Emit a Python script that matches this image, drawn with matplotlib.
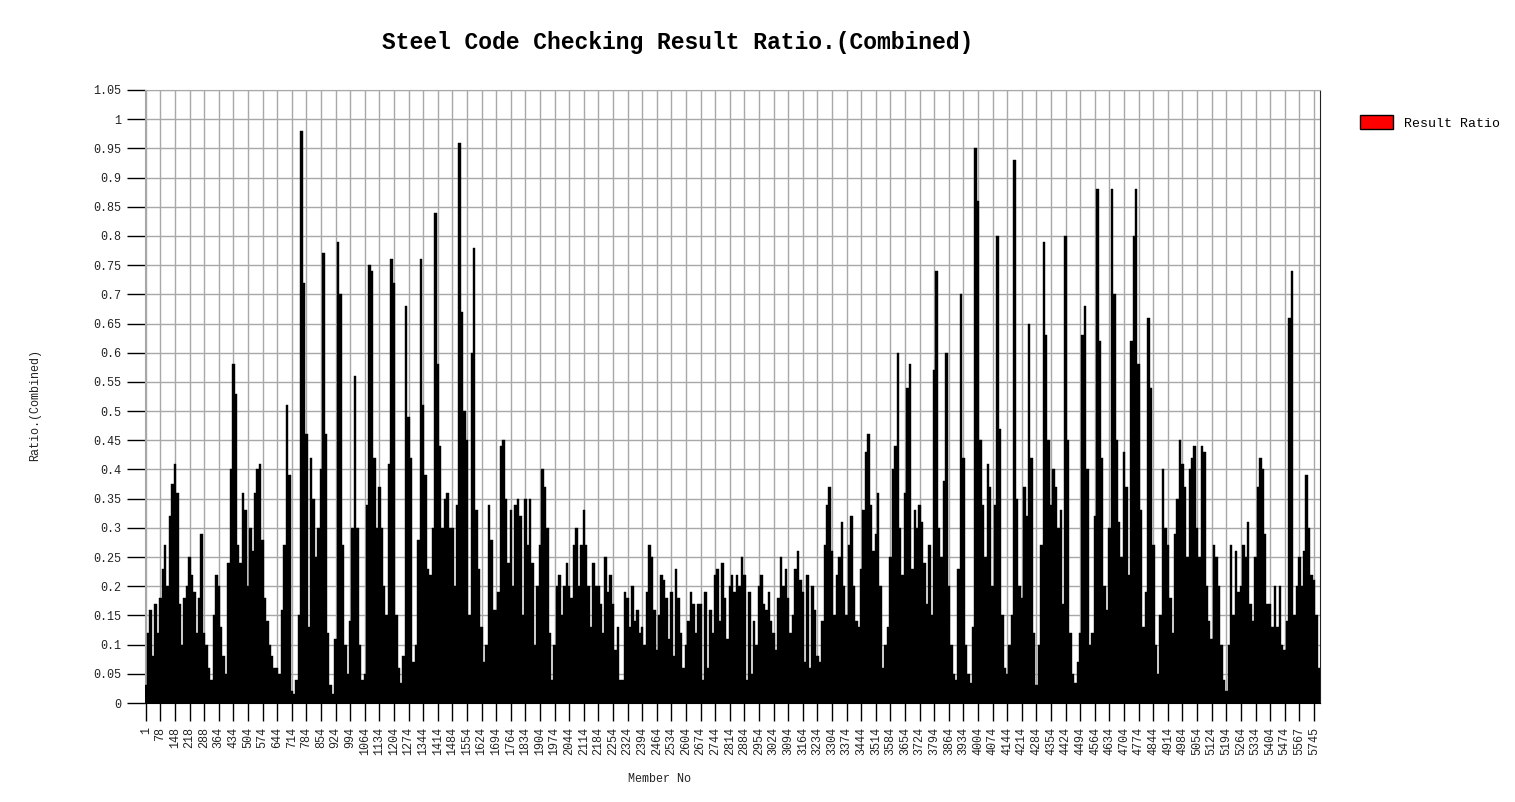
import numpy as np
import matplotlib
matplotlib.use("Agg")
import matplotlib.pyplot as plt
from matplotlib.patches import Patch
from matplotlib.font_manager import FontProperties

# ---- data -------------------------------------------------------------
title = "Steel Code Checking Result Ratio.(Combined)"
x_label = "Member No"
y_label = "Ratio.(Combined)"
series_name = "Result Ratio"

member_ticks = [1, 78, 148, 218, 288, 364, 434, 504, 574, 644, 714, 784, 854, 924,
                994, 1064, 1134, 1204, 1274, 1344, 1414, 1484, 1554, 1624, 1694,
                1764, 1834, 1904, 1974, 2044, 2114, 2184, 2254, 2324, 2394, 2464,
                2534, 2604, 2674, 2744, 2814, 2884, 2954, 3024, 3094, 3164, 3234,
                3304, 3374, 3444, 3514, 3584, 3654, 3724, 3794, 3864, 3934, 4004,
                4074, 4144, 4214, 4284, 4354, 4424, 4494, 4564, 4634, 4704, 4774,
                4844, 4914, 4984, 5054, 5124, 5194, 5264, 5334, 5404, 5474, 5567,
                5745]

# ratio values read along the member axis (6 readings per labelled interval)
ratios = [
    0.03, 0.12, 0.16, 0.08, 0.17, 0.12,
    0.18, 0.23, 0.27, 0.20, 0.32, 0.375,
    0.41, 0.36, 0.17, 0.10, 0.18, 0.20,
    0.25, 0.22, 0.19, 0.12, 0.18, 0.29,
    0.12, 0.10, 0.06, 0.04, 0.15, 0.22,
    0.20, 0.13, 0.08, 0.05, 0.24, 0.40,
    0.58, 0.53, 0.27, 0.24, 0.36, 0.33,
    0.20, 0.30, 0.26, 0.36, 0.40, 0.41,
    0.28, 0.18, 0.14, 0.10, 0.08, 0.06,
    0.06, 0.05, 0.16, 0.27, 0.51, 0.39,
    0.02, 0.015, 0.04, 0.15, 0.98, 0.72,
    0.46, 0.13, 0.42, 0.35, 0.25, 0.30,
    0.40, 0.77, 0.46, 0.12, 0.03, 0.015,
    0.11, 0.79, 0.70, 0.27, 0.10, 0.05,
    0.14, 0.30, 0.56, 0.30, 0.10, 0.04,
    0.05, 0.34, 0.75, 0.74, 0.42, 0.30,
    0.37, 0.30, 0.20, 0.15, 0.41, 0.76,
    0.72, 0.15, 0.06, 0.035, 0.08, 0.68,
    0.49, 0.42, 0.07, 0.10, 0.28, 0.76,
    0.51, 0.39, 0.23, 0.22, 0.30, 0.84,
    0.58, 0.44, 0.30, 0.35, 0.36, 0.30,
    0.30, 0.20, 0.34, 0.96, 0.67, 0.50,
    0.45, 0.15, 0.60, 0.78, 0.33, 0.23,
    0.13, 0.07, 0.10, 0.34, 0.28, 0.16,
    0.16, 0.19, 0.44, 0.45, 0.35, 0.24,
    0.33, 0.20, 0.34, 0.35, 0.32, 0.15,
    0.35, 0.27, 0.35, 0.24, 0.10, 0.20,
    0.27, 0.40, 0.37, 0.30, 0.12, 0.04,
    0.10, 0.20, 0.22, 0.15, 0.20, 0.24,
    0.20, 0.18, 0.27, 0.30, 0.20, 0.27,
    0.33, 0.27, 0.20, 0.13, 0.24, 0.20,
    0.20, 0.17, 0.12, 0.25, 0.19, 0.22,
    0.17, 0.09, 0.13, 0.04, 0.04, 0.19,
    0.18, 0.13, 0.20, 0.14, 0.16, 0.12,
    0.13, 0.10, 0.19, 0.27, 0.25, 0.16,
    0.09, 0.15, 0.22, 0.21, 0.18, 0.11,
    0.19, 0.08, 0.23, 0.18, 0.12, 0.06,
    0.10, 0.14, 0.19, 0.17, 0.12, 0.17,
    0.17, 0.04, 0.19, 0.06, 0.16, 0.12,
    0.22, 0.23, 0.14, 0.24, 0.18, 0.11,
    0.20, 0.22, 0.19, 0.22, 0.20, 0.25,
    0.22, 0.04, 0.19, 0.05, 0.14, 0.10,
    0.20, 0.22, 0.17, 0.16, 0.19, 0.14,
    0.12, 0.09, 0.18, 0.25, 0.20, 0.23,
    0.18, 0.12, 0.15, 0.23, 0.26, 0.21,
    0.19, 0.07, 0.22, 0.06, 0.20, 0.16,
    0.08, 0.07, 0.14, 0.27, 0.34, 0.37,
    0.26, 0.15, 0.22, 0.25, 0.31, 0.20,
    0.15, 0.27, 0.32, 0.20, 0.14, 0.13,
    0.23, 0.33, 0.43, 0.46, 0.34, 0.26,
    0.29, 0.36, 0.20, 0.06, 0.10, 0.13,
    0.25, 0.40, 0.44, 0.60, 0.30, 0.22,
    0.36, 0.54, 0.58, 0.23, 0.33, 0.30,
    0.34, 0.31, 0.24, 0.17, 0.27, 0.15,
    0.57, 0.74, 0.30, 0.25, 0.38, 0.60,
    0.20, 0.10, 0.05, 0.04, 0.23, 0.70,
    0.42, 0.10, 0.05, 0.035, 0.13, 0.95,
    0.86, 0.45, 0.34, 0.25, 0.41, 0.37,
    0.20, 0.34, 0.80, 0.47, 0.15, 0.06,
    0.05, 0.10, 0.15, 0.93, 0.35, 0.20,
    0.18, 0.37, 0.32, 0.65, 0.42, 0.12,
    0.03, 0.10, 0.27, 0.79, 0.63, 0.45,
    0.34, 0.40, 0.37, 0.30, 0.33, 0.17,
    0.80, 0.45, 0.12, 0.05, 0.035, 0.07,
    0.12, 0.63, 0.68, 0.40, 0.10, 0.12,
    0.32, 0.88, 0.62, 0.42, 0.20, 0.16,
    0.30, 0.88, 0.70, 0.45, 0.31, 0.25,
    0.43, 0.37, 0.22, 0.62, 0.80, 0.88,
    0.58, 0.33, 0.13, 0.19, 0.66, 0.54,
    0.27, 0.10, 0.05, 0.15, 0.40, 0.30,
    0.27, 0.18, 0.12, 0.29, 0.35, 0.45,
    0.41, 0.37, 0.25, 0.40, 0.42, 0.44,
    0.30, 0.25, 0.44, 0.43, 0.20, 0.14,
    0.11, 0.27, 0.25, 0.20, 0.10, 0.04,
    0.02, 0.10, 0.27, 0.15, 0.26, 0.19,
    0.20, 0.27, 0.25, 0.31, 0.17, 0.14,
    0.25, 0.37, 0.42, 0.40, 0.29, 0.17,
    0.17, 0.13, 0.20, 0.13, 0.20, 0.10,
    0.09, 0.14, 0.66, 0.74, 0.15, 0.20,
    0.25, 0.20, 0.26, 0.39, 0.30, 0.22,
    0.21, 0.15, 0.06,
]
readings_per_tick = 6

# ---- figure -----------------------------------------------------------
W, H = 1515, 802
fig = plt.figure(figsize=(W / 100, H / 100), dpi=100)
fig.patch.set_facecolor("white")

L, R, T, B = 144.5, 1320, 90, 703
ax = fig.add_axes([L / W, 1 - B / H, (R - L) / W, (B - T) / H])

mono = "Liberation Mono"
tick_font = FontProperties(family=mono, size=8.5)

x = np.arange(len(ratios))
ax.bar(x, ratios, width=1.0, color="black", edgecolor="black",
       linewidth=0.3, zorder=3)

ax.set_xlim(-0.5, len(ratios) - 0.5)
ax.set_ylim(0, 1.05)

yticks = np.round(np.arange(0, 1.0501, 0.05), 2)
ax.set_yticks(yticks)
ax.set_yticklabels([f"{v:g}" for v in yticks], fontproperties=tick_font)

tick_pos = np.arange(len(member_ticks)) * readings_per_tick
ax.set_xticks(tick_pos)
ax.set_xticklabels([str(m) for m in member_ticks], rotation=90,
                   fontproperties=tick_font)

ax.tick_params(axis="both", direction="out", length=13, width=1,
               color="black", labelcolor="#222222", pad=4)

ax.grid(True, color="#a8a8a8", linewidth=1.0, zorder=0)
ax.set_axisbelow(True)
for side in ("left", "top"):
    ax.spines[side].set_color("#a8a8a8")
ax.spines["right"].set_color("#202020")
ax.spines["bottom"].set_color("black")

# titles and labels
fig.text(678 / W, 1 - 43 / H, title, ha="center", va="center",
         family=mono, fontsize=16.6, fontweight="bold", color="black")
fig.text(660 / W, 1 - 779 / H, x_label, ha="center", va="center",
         family=mono, fontsize=8.5, color="#222222")
fig.text(35 / W, 1 - 405 / H, y_label, ha="center", va="center",
         rotation=90, family=mono, fontsize=8.5, color="#222222")

# legend
handle = Patch(facecolor="red", edgecolor="black", linewidth=1)
fig.legend(handles=[handle], labels=[series_name], loc="upper left",
           bbox_to_anchor=(1360 / W, 1 - 115 / H), frameon=False,
           prop=FontProperties(family=mono, size=9.5),
           handlelength=2.5, handleheight=1.3, handletextpad=0.8,
           borderpad=0, borderaxespad=0)

fig.savefig("out.png", dpi=100, facecolor="white")
